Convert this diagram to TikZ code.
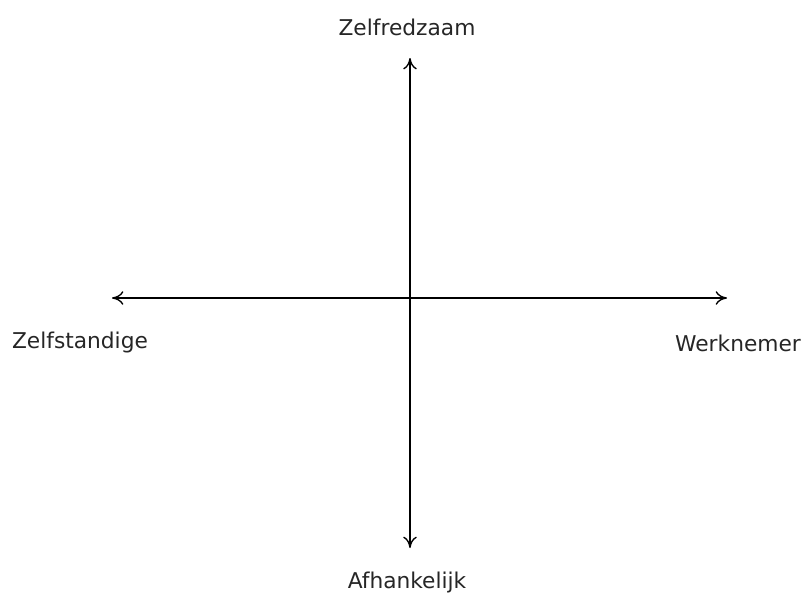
\documentclass[tikz,border=0pt]{standalone}
\usepackage{fontspec}
\setmainfont{DejaVu Sans}
\usetikzlibrary{arrows.meta,positioning}

\begin{document}
\begin{tikzpicture}[
  x=0.75pt, y=-0.75pt,
  axis/.style={{To[length=3mm,width=3.6mm]}-{To[length=3mm,width=3.6mm]}, line width=1pt},
  lbl/.style={font=\fontsize{16.3}{19}\selectfont, text=black!85, inner sep=0pt}
]
\useasboundingbox (0,0) rectangle (803,596);
\coordinate (top) at (410,58);
\coordinate (bottom) at (410,548);
\coordinate (left) at (112,298);
\coordinate (right) at (727,298);
\node[lbl] (zelfredzaam) at (407,27) {Zelfredzaam};
\node[lbl] (afhankelijk) at (407,582) {Afhankelijk};
\node[lbl] (zelfstandige) at (80,343) {Zelfstandige};
\node[lbl] (werknemer) at (738,343) {Werknemer};
\draw[axis] (left) -- (right);
\draw[axis] (bottom) -- (top);
\end{tikzpicture}
\end{document}
